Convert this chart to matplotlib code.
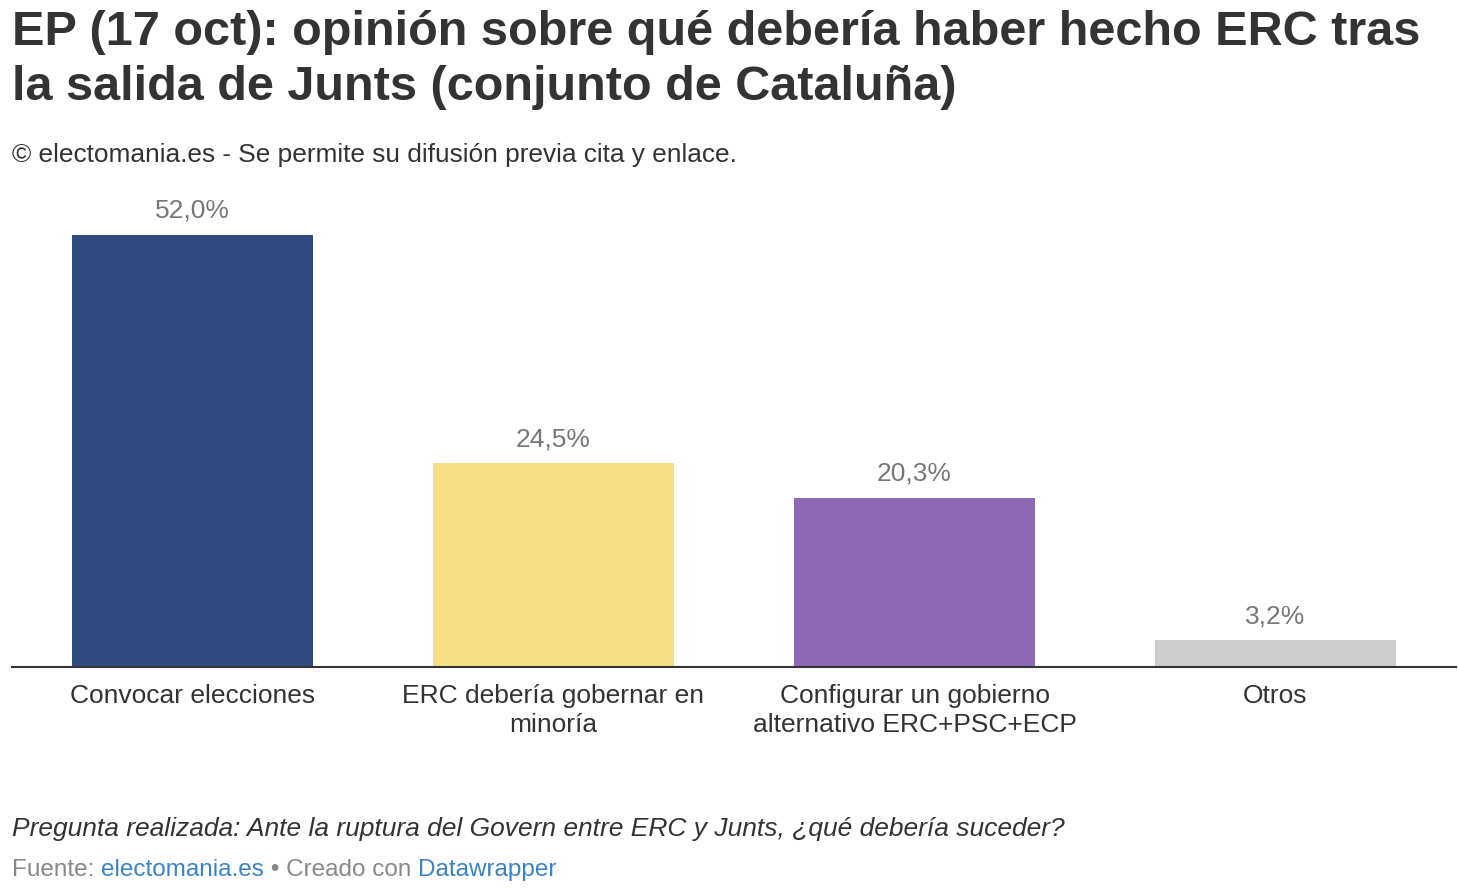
import matplotlib
matplotlib.use("Agg")
import matplotlib.pyplot as plt

# data
categories = ["Convocar elecciones",
              "ERC debería gobernar en\nminoría",
              "Configurar un gobierno\nalternativo ERC+PSC+ECP",
              "Otros"]
values = [52.0, 24.5, 20.3, 3.2]
colors = ["#2e4a7e", "#f7df87", "#8d69b5", "#cdcdcd"]

title = "EP (17 oct): opinión sobre qué debería haber hecho ERC tras\nla salida de Junts (conjunto de Cataluña)"
subtitle = "© electomania.es - Se permite su difusión previa cita y enlace."
note = "Pregunta realizada: Ante la ruptura del Govern entre ERC y Junts, ¿qué debería suceder?"
footer = [("Fuente: ", "#888888"), ("electomania.es", "#3a83c6"),
          (" • Creado con ", "#888888"), ("Datawrapper", "#3a83c6")]

plt.rcParams['font.family'] = ['Liberation Sans', 'DejaVu Sans']

W, H = 1458, 888
fig = plt.figure(figsize=(W / 100, H / 100), dpi=100)

def fx(px):
    return px / W

def fy(py):
    return 1 - py / H

ax = fig.add_axes([fx(12), fy(667), fx(1444), (667 - 200) / H])
x = list(range(len(values)))
ax.bar(x, values, width=0.665, color=colors, zorder=2)
ax.set_xlim(-0.5, 3.5)
ax.set_ylim(0, 467 / (432 / 52.0))

for xi, v in zip(x, values):
    ax.annotate(f"{v:.1f}%".replace(".", ","), (xi, v), xytext=(0, 12.5),
                textcoords="offset points", ha="center", va="baseline",
                fontsize=19, color="#777777")

ax.set_xticks(x)
ax.set_xticklabels(categories, fontsize=19, color="#333333", linespacing=1.3)
ax.tick_params(axis="x", length=0, pad=12)
ax.set_yticks([])
for s in ["top", "right", "left"]:
    ax.spines[s].set_visible(False)
ax.spines["bottom"].set_color("#333333")
ax.spines["bottom"].set_linewidth(1.5)

fig.text(fx(12), fy(10), title, fontsize=35, fontweight="bold", color="#333333",
         va="top", ha="left", linespacing=1.3)
fig.text(fx(12), fy(162), subtitle, fontsize=18.9, color="#333333", va="baseline", ha="left")
fig.text(fx(12), fy(836), note, fontsize=19, color="#333333", style="italic",
         va="baseline", ha="left")

# footer with mixed colours
fig.canvas.draw()
renderer = fig.canvas.get_renderer()
xpos = 12
for txt, col in footer:
    t = fig.text(fx(xpos), fy(876), txt, fontsize=17.5, color=col, va="baseline", ha="left")
    bb = t.get_window_extent(renderer=renderer)
    xpos += bb.width

fig.savefig("out.png", dpi=100, facecolor="white")
